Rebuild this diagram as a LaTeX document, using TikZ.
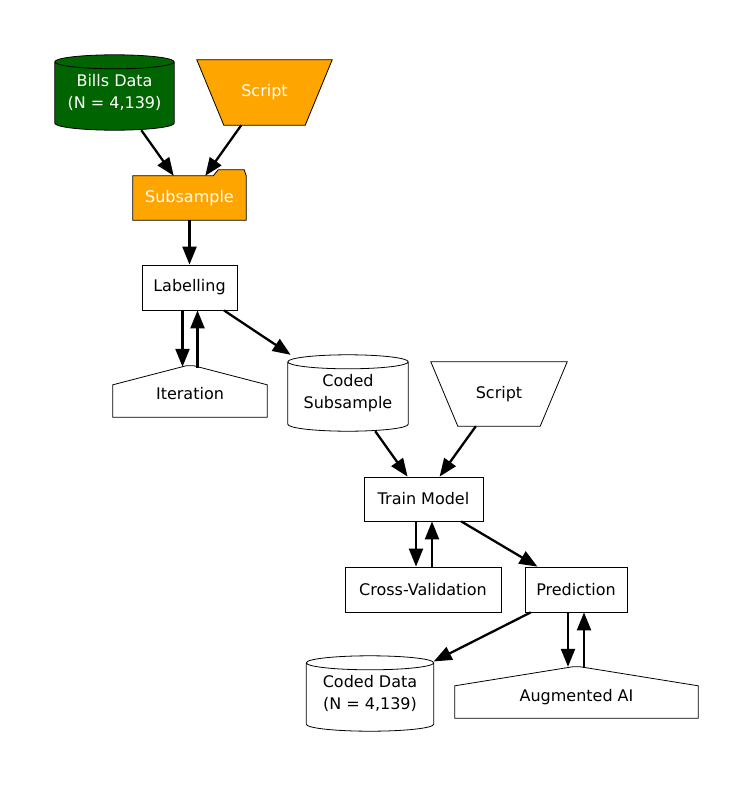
\documentclass[tikz,border=0pt]{standalone}
\usepackage{fontspec}
\setmainfont{DejaVu Sans}
\usetikzlibrary{arrows.meta}
\usetikzlibrary{calc,backgrounds}

\definecolor{dataGreen}{HTML}{006400}
\definecolor{scriptOrange}{HTML}{FFA500}

\newcommand\drawdrum[2]{%
  \path[outline, fill=#2] let \p1 = (#1.north west), \p2 = (#1.south east), \n1 = {veclen(\x2-\x1,0)/2} in
    (\x1,\y1-7bp) -- (\x1,\y2+7bp) arc[start angle=180, end angle=360, x radius=\n1, y radius=7bp]
    -- (\x2,\y1-7bp) arc[start angle=0, end angle=180, x radius=\n1, y radius=7bp] -- cycle
    (\x1,\y1-7bp) arc[start angle=180, end angle=360, x radius=\n1, y radius=7bp];}
\newcommand\drawhouse[1]{%
  \path[outline, fill=white] (#1.south west) -- (#1.south east) -- ([yshift=-19bp]#1.north east)
    -- ([xshift=4bp]#1.north) -- ([xshift=-4bp]#1.north) -- ([yshift=-19bp]#1.north west) -- cycle;}
\newcommand\drawtrap[2]{%
  \path[outline, fill=#2] (#1.north west) -- (#1.north east) -- ([xshift=-27bp]#1.south east)
    -- ([xshift=27bp]#1.south west) -- cycle;}
\newcommand\lowered[2]{\raisebox{-#1}[\height][\depth]{#2}}

\begin{document}
\begin{tikzpicture}[x=1bp, y=1bp, >={Triangle[length=18bp, width=14bp]},
    every node/.style={font=\fontsize{16bp}{22bp}\selectfont, align=center, inner sep=0pt},
    box/.style={draw, line width=0.8bp, minimum width=#1, minimum height=45bp},
    box/.default=100bp,
    blank/.style 2 args={minimum width=#1, minimum height=#2},
    outline/.style={draw=black, line width=0.8bp},
    edge/.style={->, line width=2.3bp}]

    \useasboundingbox (0,0) rectangle (753,-788);

    \node[blank={119bp}{75bp}, text=white] (bills) at (114.5,-92.5) {Bills Data\\(N = 4,139)};
    \node[blank={135bp}{65bp}, text=white] (script) at (264.5,-92.5) {Script};
    \node[blank={113bp}{44bp}, text=white] (subs) at (189.5,-198) {Subsample};
    \node[box=95bp] (lab) at (189.5,-287.5) {Labelling};
    \node[blank={154bp}{51bp}] (iter) at (190,-391.5) {\lowered{2bp}{Iteration}};
    \node[blank={120bp}{76bp}] (codsub) at (348,-393) {Coded\\Subsample};
    \node[blank={136bp}{64bp}] (script2) at (499,-394) {Script};
    \node[box=119bp, minimum height=44bp] (train) at (423.5,-499) {Train Model};
    \node[box=156bp] (cv) at (423,-589.5) {Cross-Validation};
    \node[box=102bp] (pred) at (576,-589.5) {Prediction};
    \node[blank={127bp}{75bp}] (coded) at (370,-693.5) {Coded Data\\(N = 4,139)};
    \node[blank={243bp}{51bp}] (aug) at (576.5,-692.5) {\lowered{5bp}{Augmented AI}};

    \begin{scope}[on background layer]
        \drawdrum{bills}{dataGreen}
        \drawdrum{codsub}{white}
        \drawdrum{coded}{white}
        \drawtrap{script}{scriptOrange}
        \drawtrap{script2}{white}
        \drawhouse{iter}
        \drawhouse{aug}
        \path[outline, fill=scriptOrange] (subs.south west) -- (subs.south east) -- (subs.north east)
            -- ++(-2bp,6bp) -- ++(-26bp,0) -- ++(-5bp,-6bp) -- (subs.north west) -- cycle;
    \end{scope}

    \draw[edge] (bills) -- (subs);
    \draw[edge] (script) -- (subs);
    \draw[edge] (subs) -- (lab);
    \draw[edge] ([xshift=-7bp]lab.south) -- ([xshift=-7bp,yshift=-1bp]lab.south |- iter.north);
    \draw[edge] ([xshift=8bp,yshift=-2bp]lab.south |- iter.north) -- ([xshift=8bp]lab.south);
    \draw[edge] (lab) -- (codsub);
    \draw[edge] (codsub) -- (train);
    \draw[edge] (script2) -- (train);
    \draw[edge] ([xshift=-7.5bp]train.south) -- ([xshift=-7.5bp]train.south |- cv.north);
    \draw[edge] ([xshift=8.5bp]train.south |- cv.north) -- ([xshift=8.5bp]train.south);
    \draw[edge] (train) -- (pred);
    \draw[edge] ([xshift=-8bp]pred.south) -- ([xshift=-8bp]pred.south |- aug.north);
    \draw[edge] ([xshift=8bp,yshift=-1bp]pred.south |- aug.north) -- ([xshift=8bp]pred.south);
    \draw[edge] (pred) -- (coded);

\end{tikzpicture}
\end{document}
